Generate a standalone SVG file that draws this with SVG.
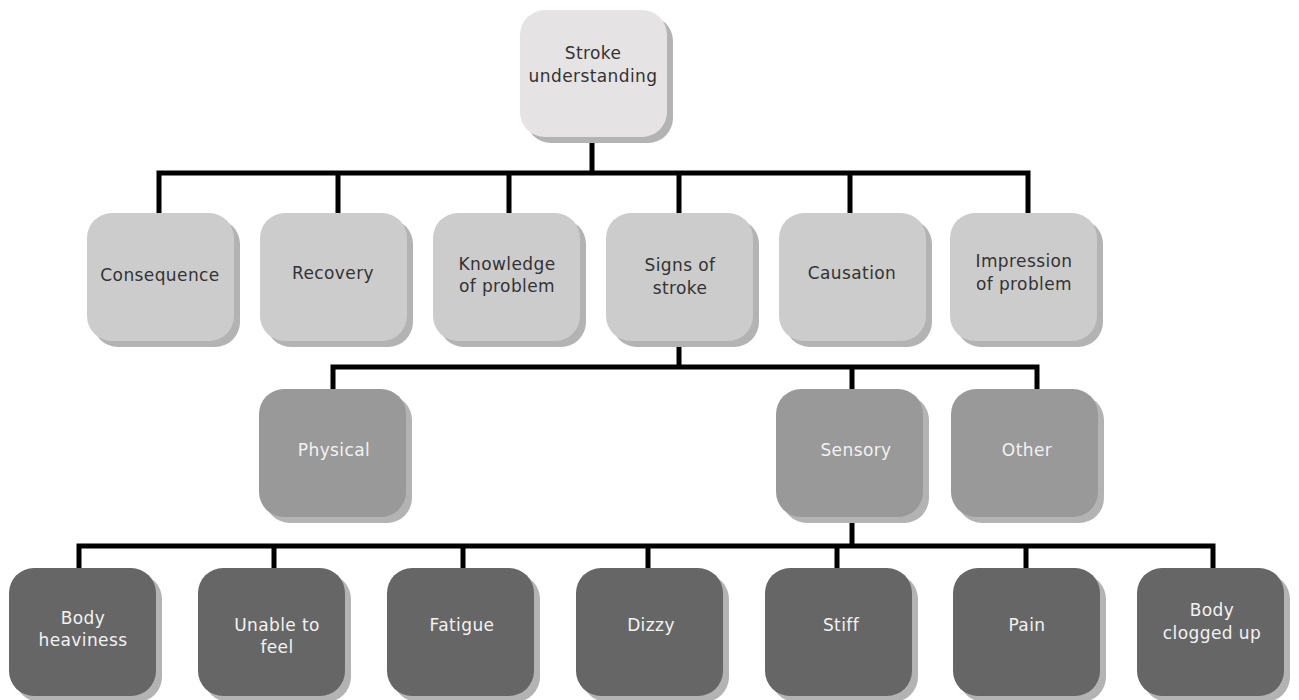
<svg xmlns="http://www.w3.org/2000/svg" width="1299" height="700" viewBox="0 0 1299 700">
<style>
.sh{fill:#b3b3b3}
.l0{fill:#e6e3e4}
.l1{fill:#cccccc}
.l2{fill:#999999}
.l3{fill:#666666}
text{font-family:"DejaVu Sans","Liberation Sans",sans-serif;font-size:17px;text-anchor:middle;letter-spacing:0.4px}
.d{fill:#333333}
.w{fill:#f2f2f2}
.c{fill:none;stroke:#000;stroke-width:5;stroke-linejoin:miter;stroke-linecap:butt}
</style>
<rect width="1299" height="700" fill="#fff"/>
<g id="connectors">
<path class="c" d="M592 137V173M159 215V173H1028V215M338 173V215M509 173V215M679 173V215M850 173V215"/>
<path class="c" d="M679 342V367M333 391V367H1037V391M852 367V391"/>
<path class="c" d="M852 518V546M79 570V546H1213V570M274 546V570M463 546V570M648 546V570M837 546V570M1026 546V570"/>
</g>
<g id="n-stroke"><rect class="sh" x="526" y="16" width="147" height="127" rx="25"/><rect class="l0" x="520" y="10" width="147" height="127" rx="25"/><text class="d" x="593" y="59">Stroke</text><text class="d" x="593" y="82">understanding</text></g>
<g id="n-consequence"><rect class="sh" x="93" y="219" width="147" height="128" rx="25"/><rect class="l1" x="87" y="213" width="147" height="128" rx="25"/><text class="d" x="160" y="281">Consequence</text></g>
<g id="n-recovery"><rect class="sh" x="266" y="219" width="147" height="128" rx="25"/><rect class="l1" x="260" y="213" width="147" height="128" rx="25"/><text class="d" x="333" y="279">Recovery</text></g>
<g id="n-knowledge"><rect class="sh" x="439" y="219" width="147" height="128" rx="25"/><rect class="l1" x="433" y="213" width="147" height="128" rx="25"/><text class="d" x="507" y="270">Knowledge</text><text class="d" x="507" y="292">of problem</text></g>
<g id="n-signs"><rect class="sh" x="612" y="219" width="147" height="128" rx="25"/><rect class="l1" x="606" y="213" width="147" height="128" rx="25"/><text class="d" x="680" y="271">Signs of</text><text class="d" x="680" y="294">stroke</text></g>
<g id="n-causation"><rect class="sh" x="785" y="219" width="147" height="128" rx="25"/><rect class="l1" x="779" y="213" width="147" height="128" rx="25"/><text class="d" x="852" y="279">Causation</text></g>
<g id="n-impression"><rect class="sh" x="956" y="219" width="147" height="128" rx="25"/><rect class="l1" x="950" y="213" width="147" height="128" rx="25"/><text class="d" x="1024" y="267">Impression</text><text class="d" x="1024" y="290">of problem</text></g>
<g id="n-physical"><rect class="sh" x="265" y="395" width="147" height="128" rx="25"/><rect class="l2" x="259" y="389" width="147" height="128" rx="25"/><text class="w" x="334" y="456">Physical</text></g>
<g id="n-sensory"><rect class="sh" x="782" y="395" width="147" height="128" rx="25"/><rect class="l2" x="776" y="389" width="147" height="128" rx="25"/><text class="w" x="856" y="456">Sensory</text></g>
<g id="n-other"><rect class="sh" x="957" y="395" width="147" height="128" rx="25"/><rect class="l2" x="951" y="389" width="147" height="128" rx="25"/><text class="w" x="1027" y="456">Other</text></g>
<g id="n-heaviness"><rect class="sh" x="15" y="574" width="147" height="128" rx="25"/><rect class="l3" x="9" y="568" width="147" height="128" rx="25"/><text class="w" x="83" y="624">Body</text><text class="w" x="83" y="646">heaviness</text></g>
<g id="n-unable"><rect class="sh" x="204" y="574" width="147" height="128" rx="25"/><rect class="l3" x="198" y="568" width="147" height="128" rx="25"/><text class="w" x="277" y="631">Unable to</text><text class="w" x="277" y="653">feel</text></g>
<g id="n-fatigue"><rect class="sh" x="393" y="574" width="147" height="128" rx="25"/><rect class="l3" x="387" y="568" width="147" height="128" rx="25"/><text class="w" x="462" y="631">Fatigue</text></g>
<g id="n-dizzy"><rect class="sh" x="582" y="574" width="147" height="128" rx="25"/><rect class="l3" x="576" y="568" width="147" height="128" rx="25"/><text class="w" x="651" y="631">Dizzy</text></g>
<g id="n-stiff"><rect class="sh" x="771" y="574" width="147" height="128" rx="25"/><rect class="l3" x="765" y="568" width="147" height="128" rx="25"/><text class="w" x="841" y="631">Stiff</text></g>
<g id="n-pain"><rect class="sh" x="959" y="574" width="147" height="128" rx="25"/><rect class="l3" x="953" y="568" width="147" height="128" rx="25"/><text class="w" x="1027" y="631">Pain</text></g>
<g id="n-clogged"><rect class="sh" x="1143" y="574" width="147" height="128" rx="25"/><rect class="l3" x="1137" y="568" width="147" height="128" rx="25"/><text class="w" x="1212" y="616">Body</text><text class="w" x="1212" y="639">clogged up</text></g>
</svg>
